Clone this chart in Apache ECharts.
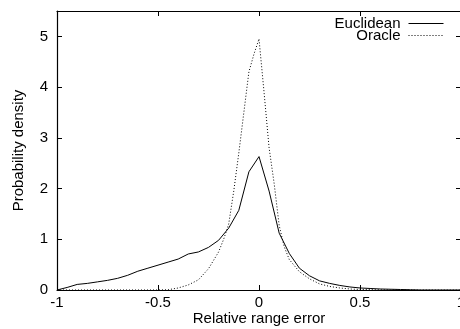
<!DOCTYPE html>
<html>
<head>
<meta charset="utf-8">
<script src="https://cdn.jsdelivr.net/npm/echarts@6/dist/echarts.min.js"></script>
<style>html,body{margin:0;padding:0;background:#fff}#c{width:460px;height:329px}</style>
</head>
<body>
<div id="c"></div>
<script>
var euclidX = [-1,-0.95,-0.9,-0.85,-0.8,-0.75,-0.7,-0.65,-0.6,-0.55,-0.5,-0.45,-0.4,-0.35,-0.3,-0.25,-0.2,-0.15,-0.1,-0.05,0,0.05,0.1,0.15,0.2,0.25,0.3,0.35,0.4,0.45,0.5,0.55,0.6,0.65,0.7,0.75,0.8,0.9,1];
var euclidY = [0,0.05,0.11,0.13,0.16,0.19,0.23,0.29,0.37,0.43,0.49,0.55,0.61,0.71,0.75,0.84,0.98,1.22,1.57,2.33,2.63,1.95,1.12,0.72,0.43,0.28,0.18,0.13,0.09,0.06,0.04,0.03,0.02,0.015,0.01,0.005,0,0,0];
var oracleX = [-1,-0.5,-0.45,-0.4,-0.35,-0.3,-0.25,-0.2,-0.175,-0.15,-0.125,-0.1,-0.075,-0.05,-0.025,0,0.025,0.05,0.075,0.1,0.125,0.15,0.2,0.25,0.3,0.35,0.4,0.45,0.5,0.6,0.7,1];
var oracleY = [0,0,0.005,0.04,0.1,0.2,0.42,0.75,1.0,1.3,1.95,2.7,3.5,4.3,4.65,4.95,3.9,2.8,2.1,1.27,0.85,0.6,0.36,0.22,0.12,0.07,0.04,0.02,0.01,0.005,0,0];
var xTicks = [-1,-0.5,0,0.5,1];
var yTicks = [0,1,2,3,4,5];
var seriesNames = ['Euclidean','Oracle'];
var xTitle = 'Relative range error';
var yTitle = 'Probability density';

function pairs(xs, ys){ return xs.map(function(x,i){ return [x, ys[i]]; }); }
var font = 'Liberation Sans, Arial, Helvetica, sans-serif';
var fs = 15;
var chart = echarts.init(document.getElementById('c'), null, {renderer:'canvas'});
var axLine = {show:true, onZero:false, lineStyle:{color:'#000', width:1.2}};
var tick = {show:true, inside:true, length:5, lineStyle:{color:'#000'}};
chart.setOption({
  animation:false,
  backgroundColor:'#fff',
  grid:{left:57, top:11, width:404, height:279, outerBoundsMode:'none', containLabel:false},
  legend:{
    orient:'vertical', right:16, top:16, align:'right', padding:0,
    itemWidth:35, itemHeight:10, itemGap:-3,
    itemStyle:{opacity:0},
    lineStyle:{width:1},
    textStyle:{fontFamily:font, fontSize:fs, color:'#000', lineHeight:11, padding:[0,3,0,0]},
    data:[{name:seriesNames[0]},{name:seriesNames[1]}]
  },
  xAxis:[{
    type:'value', min:-1, max:1, interval:0.5, position:'bottom',
    name:xTitle, nameLocation:'middle', nameGap:21, nameMoveOverlap:false,
    nameTextStyle:{fontFamily:font, fontSize:fs, color:'#000'},
    axisLine:axLine, axisTick:tick,
    axisLabel:{fontFamily:font, fontSize:fs, color:'#000', margin:5,
      formatter:function(v){ return xTicks.indexOf(v) >= 0 ? String(v) : ''; }},
    splitLine:{show:false}
  },{
    type:'value', min:-1, max:1, interval:0.5, position:'top',
    axisLine:axLine, axisTick:tick,
    axisLabel:{show:false}, splitLine:{show:false}
  }],
  yAxis:[{
    type:'value', min:0, max:5.5, interval:1, position:'left',
    name:yTitle, nameLocation:'middle', nameGap:31, nameRotate:90,
    nameTextStyle:{fontFamily:font, fontSize:fs, color:'#000'},
    axisLine:axLine, axisTick:tick,
    axisLabel:{fontFamily:font, fontSize:fs, color:'#000', margin:9,
      formatter:function(v){ return yTicks.indexOf(v) >= 0 ? String(v) : ''; }},
    splitLine:{show:false}
  },{
    type:'value', min:0, max:5.5, interval:1, position:'right',
    axisLine:axLine, axisTick:tick,
    axisLabel:{show:false}, splitLine:{show:false}
  }],
  series:[{
    name:seriesNames[0], type:'line', symbol:'none', data:pairs(euclidX, euclidY),
    lineStyle:{color:'#000', width:1}, itemStyle:{color:'#000'}
  },{
    name:seriesNames[1], type:'line', symbol:'none', data:pairs(oracleX, oracleY),
    lineStyle:{color:'#000', width:1, type:[1,2]}, itemStyle:{color:'#000'}
  }]
});
</script>
</body>
</html>
